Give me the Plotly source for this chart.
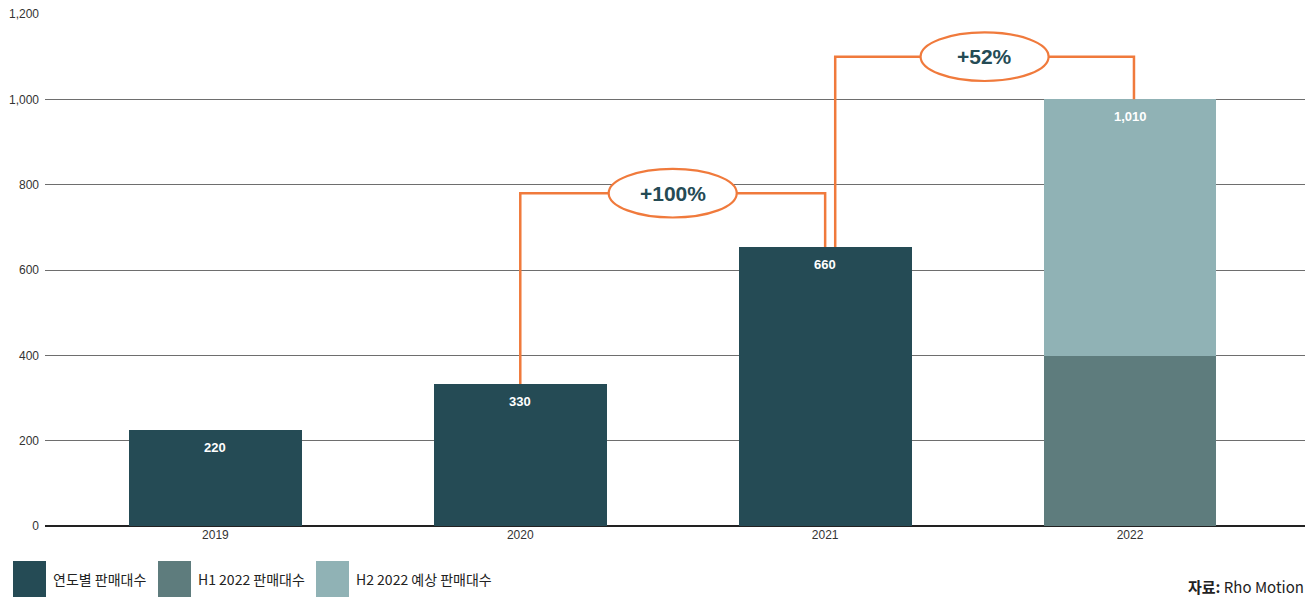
import plotly.graph_objects as go

years = ["2019", "2020", "2021", "2022"]
annual_vals = [225, 333, 654]
annual_labels = ["220", "330", "660"]
h1_2022 = 398
h2_2022 = 602
total_label_2022 = "1,010"
growth_labels = ["+100%", "+52%"]
y_ticks = [0, 200, 400, 600, 800, 1000, 1200]
y_tick_text = ["0", "200", "400", "600", "800", "1,000", "1,200"]
legend_names = ["연도별 판매대수", "H1 2022 판매대수", "H2 2022 예상 판매대수"]
source_text = "<b>자료:</b> Rho Motion"

C_DARK = "#254B55"
C_MID = "#5E7C7D"
C_LIGHT = "#90B2B5"
ORANGE = "#F07A3C"
FONT = "Liberation Sans Narrow, Liberation Sans, Noto Sans CJK KR, sans-serif"
KFONT = "Liberation Sans Narrow, Noto Sans CJK KR, sans-serif"

xs = list(range(len(years)))
W = 0.567

fig = go.Figure()
fig.add_trace(go.Bar(x=xs[:3], y=annual_vals, width=W, marker_color=C_DARK,
                     marker_line_width=0, name=legend_names[0]))
fig.add_trace(go.Bar(x=[xs[3]], y=[h1_2022], width=W, marker_color=C_MID,
                     marker_line_width=0, name=legend_names[1]))
fig.add_trace(go.Bar(x=[xs[3]], y=[h2_2022], width=W, marker_color=C_LIGHT,
                     marker_line_width=0, name=legend_names[2]))

annotations = []
shapes = []
tops = annual_vals + [h1_2022 + h2_2022]
labels = annual_labels + [total_label_2022]
for x, t, lab in zip(xs, tops, labels):
    annotations.append(dict(x=x, y=t, text=f"<b>{lab}</b>", showarrow=False,
                            yanchor="top", yshift=-8,
                            font=dict(family=FONT, size=13, color="white")))

# growth connectors
levels = [780, 1100]
conn = [(xs[1], tops[1], xs[2], tops[2]), (xs[2] + 0.033, tops[2], xs[3] + 0.013, tops[3])]
for (x0, y0, x1, y1), lev, g in zip(conn, levels, growth_labels):
    shapes.append(dict(type="path", xref="x", yref="y",
                       path=f"M {x0} {y0} L {x0} {lev} L {x1} {lev} L {x1} {y1}",
                       line=dict(color=ORANGE, width=2.5), layer="above"))
    xc = (x0 + x1) / 2
    shapes.append(dict(type="circle", xref="x", yref="y",
                       x0=xc - 0.21, x1=xc + 0.21, y0=lev - 57, y1=lev + 57,
                       fillcolor="white", line=dict(color=ORANGE, width=2.2), layer="above"))
    annotations.append(dict(x=xc, y=lev, text=f"<b>{g}</b>", showarrow=False,
                            font=dict(family=FONT, size=21, color=C_DARK)))

# legend boxes
PW = 1260.0
PH = 512.0
def px(x):
    return (x - 45) / PW
def py(y):
    return (526 - y) / PH
box_x = [13, 158, 316]
colors = [C_DARK, C_MID, C_LIGHT]
for bx, col, name in zip(box_x, colors, legend_names):
    shapes.append(dict(type="rect", xref="paper", yref="paper",
                       x0=px(bx), x1=px(bx + 33), y0=py(597), y1=py(561),
                       fillcolor=col, line=dict(width=0)))
    annotations.append(dict(x=px(bx + 38), y=py(579), xref="paper", yref="paper",
                            text=name, showarrow=False, xanchor="left", yanchor="middle",
                            font=dict(family=KFONT, size=14, color="#222")))

annotations.append(dict(x=px(1306), y=py(586), xref="paper", yref="paper",
                        text=source_text, showarrow=False, xanchor="right", yanchor="middle",
                        font=dict(family=KFONT, size=15, color="#222")))

fig.update_layout(
    width=1309, height=598,
    margin=dict(l=45, r=4, t=14, b=72),
    barmode="stack", showlegend=False, bargap=0,
    plot_bgcolor="white", paper_bgcolor="white",
    shapes=shapes, annotations=annotations,
    xaxis=dict(range=[-0.559, 3.574], tickvals=xs, ticktext=years, showgrid=False,
               zeroline=False, showline=False, ticks="", ticklen=0,
               tickfont=dict(family=FONT, size=12, color="#333")),
    yaxis=dict(range=[0, 1200], tickvals=y_ticks, ticktext=y_tick_text,
               showgrid=True, gridcolor="#6e6e6e", gridwidth=1,
               zeroline=True, zerolinecolor="#222", zerolinewidth=1.5,
               showline=False, ticks="", ticklabelstandoff=5,
               tickfont=dict(family=FONT, size=12, color="#333")),
)

fig.write_html("out.html")
